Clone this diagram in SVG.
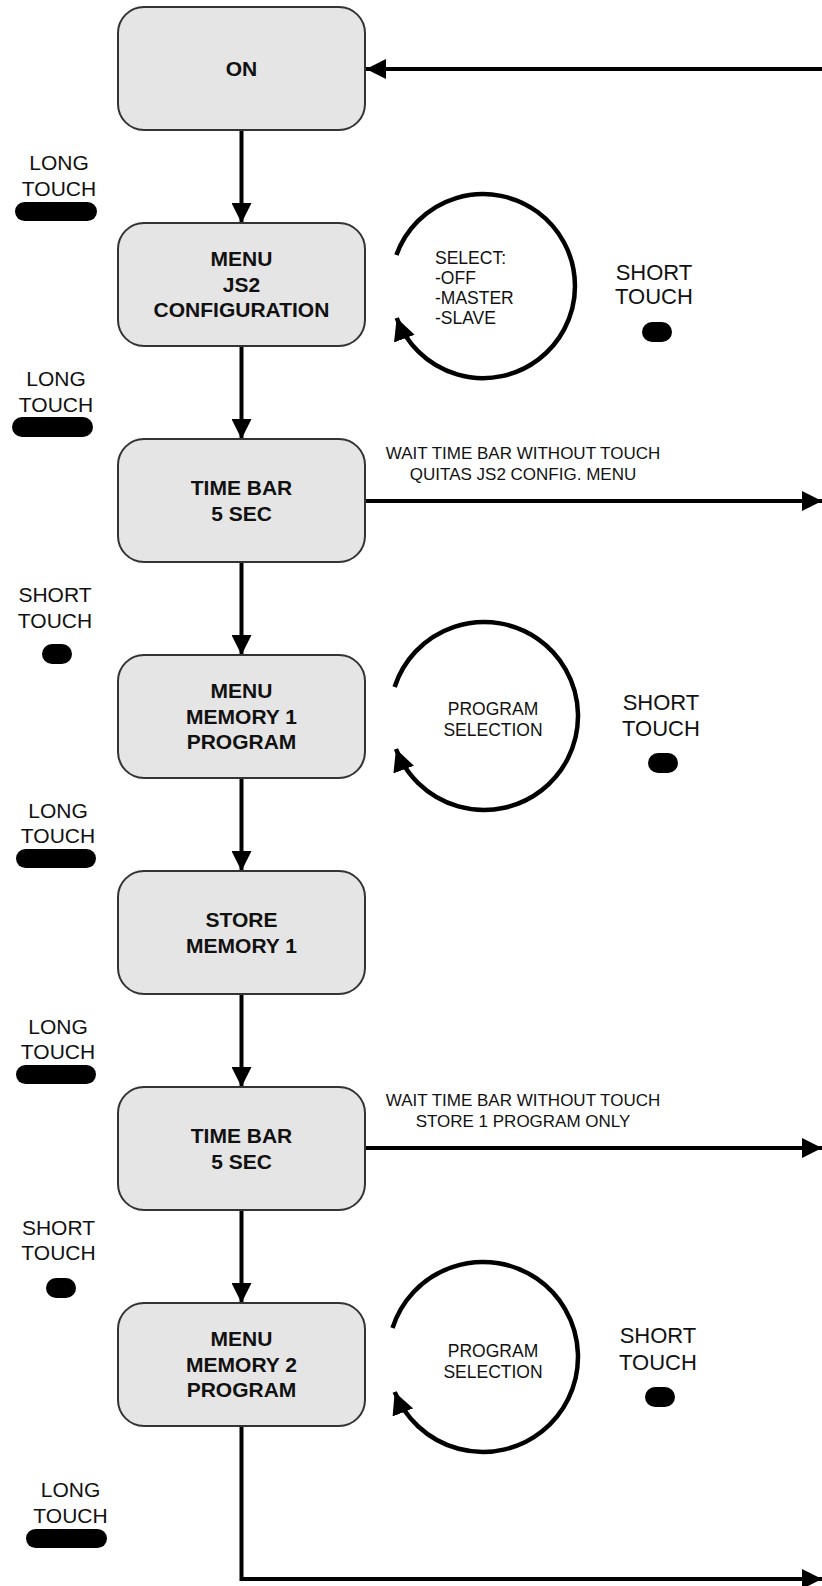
<svg xmlns="http://www.w3.org/2000/svg" width="822" height="1586" viewBox="0 0 822 1586">
<style>
  .box { fill: #e5e5e5; stroke: #333; stroke-width: 2; }
  .bt { font-family: "Liberation Sans", Arial, sans-serif; font-size: 21px; font-weight: bold; fill: #111; text-anchor: middle; }
  .lt { font-family: "Liberation Sans", Arial, sans-serif; font-size: 21px; fill: #111; text-anchor: middle; }
  .rt { font-family: "Liberation Sans", Arial, sans-serif; font-size: 22px; fill: #111; text-anchor: middle; }
  .ct { font-family: "Liberation Sans", Arial, sans-serif; font-size: 17.5px; fill: #111; }
  .wt { font-family: "Liberation Sans", Arial, sans-serif; font-size: 17px; fill: #111; text-anchor: middle; }
  .ln { fill: none; stroke: #000; stroke-width: 4; }
  .arc { fill: none; stroke: #000; stroke-width: 4.5; }
  .pill { fill: #000; }
</style>
<defs>
  <marker id="ah" viewBox="0 0 20 20" refX="20" refY="10" markerWidth="20" markerHeight="20" markerUnits="userSpaceOnUse" orient="auto">
    <path d="M0,0 L20,10 L0,20 z" fill="#000"/>
  </marker>
  <marker id="ah2" viewBox="0 0 22 22" refX="22" refY="11" markerWidth="22" markerHeight="22" markerUnits="userSpaceOnUse" orient="auto">
    <path d="M0,0 L22,11 L0,22 z" fill="#000"/>
  </marker>
</defs>
<rect width="822" height="1586" fill="#fff"/>

<g id="connectors">
  <path class="ln" d="M822,69 H366" marker-end="url(#ah)"/>
  <path class="ln" d="M241.5,130 V223" marker-end="url(#ah)"/>
  <path class="ln" d="M241.5,346 V439" marker-end="url(#ah)"/>
  <path class="ln" d="M241.5,562 V655" marker-end="url(#ah)"/>
  <path class="ln" d="M241.5,778 V871" marker-end="url(#ah)"/>
  <path class="ln" d="M241.5,994 V1087" marker-end="url(#ah)"/>
  <path class="ln" d="M241.5,1210 V1303" marker-end="url(#ah)"/>
  <path class="ln" d="M365,501 H822" marker-end="url(#ah)"/>
  <path class="ln" d="M365,1148 H822" marker-end="url(#ah)"/>
  <path class="ln" d="M241.5,1426 V1579 H822" marker-end="url(#ah)"/>
  <path class="arc" d="M396.4,255 A92,92 0 1,1 396.7,318" marker-end="url(#ah2)"/>
  <path class="arc" d="M394.6,687 A94,94 0 1,1 396,749" marker-end="url(#ah2)"/>
  <path class="arc" d="M392.5,1328 A95,95 0 1,1 394.7,1392" marker-end="url(#ah2)"/>
</g>

<g id="node-on">
  <rect class="box" x="118" y="7" width="247" height="123" rx="26"/>
  <text class="bt" x="241.5" y="76">ON</text>
</g>
<g id="node-js2">
  <rect class="box" x="118" y="223" width="247" height="123" rx="26"/>
  <text class="bt" x="241.5" y="266">MENU</text>
  <text class="bt" x="241.5" y="292">JS2</text>
  <text class="bt" x="241.5" y="317">CONFIGURATION</text>
</g>
<g id="node-timebar1">
  <rect class="box" x="118" y="439" width="247" height="123" rx="26"/>
  <text class="bt" x="241.5" y="495">TIME BAR</text>
  <text class="bt" x="241.5" y="521">5 SEC</text>
</g>
<g id="node-mem1">
  <rect class="box" x="118" y="655" width="247" height="123" rx="26"/>
  <text class="bt" x="241.5" y="698">MENU</text>
  <text class="bt" x="241.5" y="724">MEMORY 1</text>
  <text class="bt" x="241.5" y="749">PROGRAM</text>
</g>
<g id="node-store1">
  <rect class="box" x="118" y="871" width="247" height="123" rx="26"/>
  <text class="bt" x="241.5" y="927">STORE</text>
  <text class="bt" x="241.5" y="953">MEMORY 1</text>
</g>
<g id="node-timebar2">
  <rect class="box" x="118" y="1087" width="247" height="123" rx="26"/>
  <text class="bt" x="241.5" y="1143">TIME BAR</text>
  <text class="bt" x="241.5" y="1169">5 SEC</text>
</g>
<g id="node-mem2">
  <rect class="box" x="118" y="1303" width="247" height="123" rx="26"/>
  <text class="bt" x="241.5" y="1346">MENU</text>
  <text class="bt" x="241.5" y="1372">MEMORY 2</text>
  <text class="bt" x="241.5" y="1397">PROGRAM</text>
</g>

<g id="loop-labels">
  <text class="ct" x="435" y="264">SELECT:</text>
  <text class="ct" x="435" y="284">-OFF</text>
  <text class="ct" x="435" y="304">-MASTER</text>
  <text class="ct" x="435" y="324">-SLAVE</text>
  <text class="wt" x="493" y="715" style="font-size:17.5px">PROGRAM</text>
  <text class="wt" x="493" y="736" style="font-size:17.5px">SELECTION</text>
  <text class="wt" x="493" y="1357" style="font-size:17.5px">PROGRAM</text>
  <text class="wt" x="493" y="1378" style="font-size:17.5px">SELECTION</text>
</g>

<g id="exit-labels">
  <text class="wt" x="523" y="459">WAIT TIME BAR WITHOUT TOUCH</text>
  <text class="wt" x="523" y="480">QUITAS JS2 CONFIG. MENU</text>
  <text class="wt" x="523" y="1106">WAIT TIME BAR WITHOUT TOUCH</text>
  <text class="wt" x="523" y="1127">STORE 1 PROGRAM ONLY</text>
</g>

<g id="touch-left">
  <text class="lt" x="59" y="170">LONG</text>
  <text class="lt" x="59" y="196">TOUCH</text>
  <rect class="pill" x="15" y="202" width="82" height="19" rx="9.5"/>

  <text class="lt" x="56" y="386">LONG</text>
  <text class="lt" x="56" y="412">TOUCH</text>
  <rect class="pill" x="12" y="417" width="81" height="20" rx="10"/>

  <text class="lt" x="55" y="602">SHORT</text>
  <text class="lt" x="55" y="628">TOUCH</text>
  <rect class="pill" x="42" y="644" width="30" height="20" rx="10"/>

  <text class="lt" x="58" y="818">LONG</text>
  <text class="lt" x="58" y="843">TOUCH</text>
  <rect class="pill" x="16" y="849" width="80" height="19" rx="9.5"/>

  <text class="lt" x="58" y="1034">LONG</text>
  <text class="lt" x="58" y="1059">TOUCH</text>
  <rect class="pill" x="16" y="1065" width="80" height="19" rx="9.5"/>

  <text class="lt" x="58.5" y="1235">SHORT</text>
  <text class="lt" x="58.5" y="1260">TOUCH</text>
  <rect class="pill" x="46" y="1278" width="30" height="20" rx="10"/>

  <text class="lt" x="70.5" y="1497">LONG</text>
  <text class="lt" x="70.5" y="1523">TOUCH</text>
  <rect class="pill" x="26" y="1529" width="81" height="19" rx="9.5"/>
</g>

<g id="touch-right">
  <text class="rt" x="654" y="280">SHORT</text>
  <text class="rt" x="654" y="304">TOUCH</text>
  <rect class="pill" x="642" y="322" width="30" height="20" rx="10"/>

  <text class="rt" x="661" y="710">SHORT</text>
  <text class="rt" x="661" y="736">TOUCH</text>
  <rect class="pill" x="648" y="753" width="30" height="20" rx="10"/>

  <text class="rt" x="658" y="1343">SHORT</text>
  <text class="rt" x="658" y="1370">TOUCH</text>
  <rect class="pill" x="645" y="1387" width="30" height="20" rx="10"/>
</g>
</svg>
